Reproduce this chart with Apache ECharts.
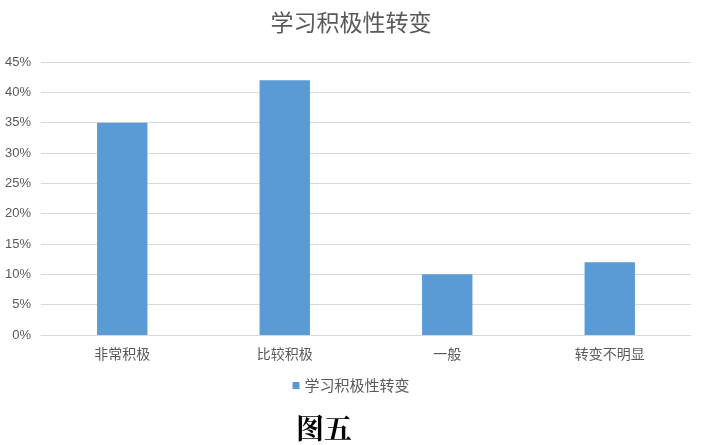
<!DOCTYPE html>
<html>
<head>
<meta charset="utf-8">
<script src="https://cdn.jsdelivr.net/npm/echarts@6/dist/echarts.min.js"></script>
<style>
  html, body { margin: 0; padding: 0; background: #fff; }
  #main { width: 702px; height: 445px; }
</style>
</head>
<body>
<div id="main"></div>
<script>
// 数据
const categories = ['非常积极', '比较积极', '一般', '转变不明显'];
const seriesName = '学习积极性转变';
const values = [35, 42, 10, 12]; // 百分比
const yTicks = [0, 5, 10, 15, 20, 25, 30, 35, 40, 45];

const chart = echarts.init(document.getElementById('main'));
const font = '"Noto Sans CJK SC", "Liberation Sans", sans-serif';

const option = {
  animation: false,
  color: ['#5b9bd5'],
  title: {
    text: seriesName,
    left: 'center',
    top: 6,
    textStyle: {
      color: '#595959',
      fontSize: 23,
      fontWeight: 'normal',
      fontFamily: font
    }
  },
  grid: {
    top: 62,
    left: 41,
    right: 11,
    bottom: 110,
    containLabel: false
  },
  legend: {
    show: true,
    bottom: 47,
    left: 'center',
    itemWidth: 7,
    itemHeight: 7,
    itemGap: 8,
    icon: 'rect',
    textStyle: {
      color: '#595959',
      fontSize: 15,
      fontFamily: font
    }
  },
  xAxis: {
    type: 'category',
    data: categories,
    axisLine: { lineStyle: { color: '#d9d9d9' } },
    axisTick: { show: false },
    axisLabel: {
      color: '#595959',
      fontSize: 14,
      margin: 12,
      fontFamily: font
    }
  },
  yAxis: {
    type: 'value',
    min: yTicks[0],
    max: yTicks[yTicks.length - 1],
    interval: 5,
    axisLine: { show: false },
    axisTick: { show: false },
    splitLine: { lineStyle: { color: '#d9d9d9' } },
    axisLabel: {
      color: '#595959',
      fontSize: 13,
      margin: 10,
      fontFamily: '"Liberation Sans", sans-serif',
      formatter: '{value}%'
    }
  },
  series: [{
    type: 'bar',
    name: seriesName,
    data: values,
    barWidth: '31%'
  }],
  // 图注
  graphic: [{
    type: 'text',
    left: 296,
    top: 414,
    style: {
      text: '图五',
      fontSize: 28,
      fontWeight: 'bold',
      fill: '#000',
      fontFamily: '"Noto Serif CJK SC", serif'
    }
  }]
};

chart.setOption(option);
</script>
</body>
</html>
